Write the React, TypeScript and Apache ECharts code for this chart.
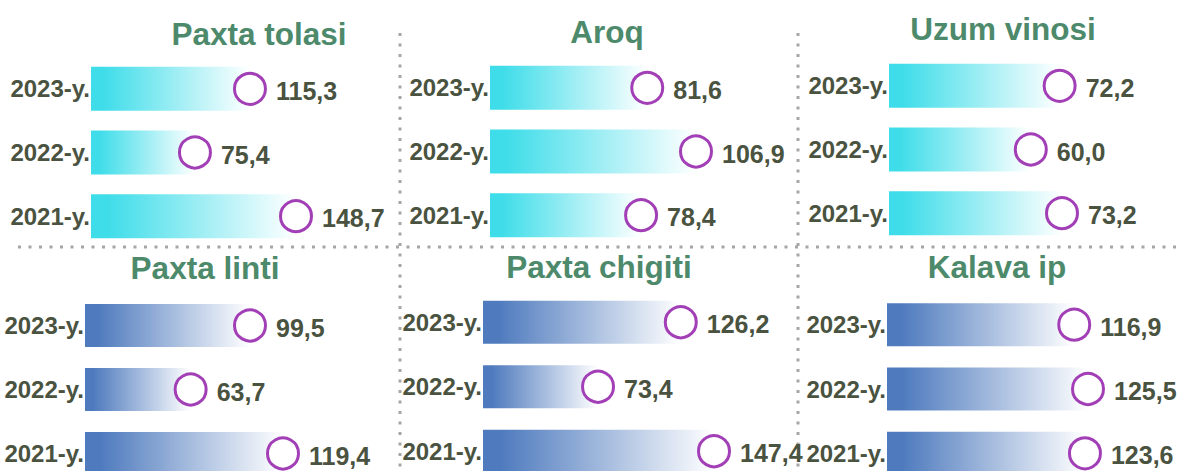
import React, { useEffect, useRef } from "react";
import * as echarts from "echarts";

// ---- data ----
const categories = ["2023-y.", "2022-y.", "2021-y."];
const titles = ["Paxta tolasi", "Aroq", "Uzum vinosi", "Paxta linti", "Paxta chigiti", "Kalava ip"];
const paxtaTolasi = [115.3, 75.4, 148.7];
const aroq = [81.6, 106.9, 78.4];
const uzumVinosi = [72.2, 60.0, 73.2];
const paxtaLinti = [99.5, 63.7, 119.4];
const paxtaChigiti = [126.2, 73.4, 147.4];
const kalavaIp = [116.9, 125.5, 123.6];
const panelValues = [paxtaTolasi, aroq, uzumVinosi, paxtaLinti, paxtaChigiti, kalavaIp];

// ---- layout / style ----
const CYAN = "#3FDDE9";
const BLUE = "#4F7BBE";
const panels = [
  { left: 91, width: 205, top: 57, height: 191, tx: 259, ty: 34, color: CYAN, bw: 44 },
  { left: 490, width: 206, top: 56, height: 191, tx: 607, ty: 31.5, color: CYAN, bw: 44 },
  { left: 889, width: 173, top: 54, height: 191, tx: 1003, ty: 28.5, color: CYAN, bw: 44 },
  { left: 85, width: 198, top: 293.5, height: 192, tx: 205, ty: 268, color: BLUE, bw: 43 },
  { left: 483, width: 231, top: 290, height: 193.5, tx: 599, ty: 267, color: BLUE, bw: 43 },
  { left: 887, width: 201, top: 292.5, height: 193, tx: 997, ty: 266.5, color: BLUE, bw: 43 },
];

const TEXT = "#4A5240";
const TITLE = "#4D8A6B";
const RING = "#A23FB7";
const FONT = "'Liberation Sans', Arial, sans-serif";

const fmt = (v: number) => v.toFixed(1).replace(".", ",");

function buildOption() {
  const grid: any[] = [];
  const xAxis: any[] = [];
  const yAxis: any[] = [];
  const series: any[] = [];
  const graphic: any[] = [];

  panels.forEach((p, i) => {
    const vals = panelValues[i];
    grid.push({
      left: p.left,
      width: p.width,
      top: p.top,
      height: p.height,
      containLabel: false,
      outerBoundsMode: "none",
    });
    xAxis.push({ type: "value", gridIndex: i, min: 0, max: "dataMax", show: false });
    yAxis.push({
      type: "category",
      gridIndex: i,
      inverse: true,
      data: categories,
      axisLine: { show: false },
      axisTick: { show: false },
      splitLine: { show: false },
      axisLabel: {
        margin: 1,
        color: TEXT,
        fontSize: 24,
        fontWeight: "bold",
        fontFamily: FONT,
      },
    });
    series.push({
      type: "bar",
      xAxisIndex: i,
      yAxisIndex: i,
      barWidth: p.bw,
      data: vals,
      itemStyle: {
        color: {
          type: "linear",
          x: 0,
          y: 0,
          x2: 1,
          y2: 0,
          colorStops: [
            { offset: 0, color: p.color },
            { offset: 0.08, color: p.color },
            { offset: 1, color: "#FFFFFF" },
          ],
        },
      },
      clip: false,
    });
    series.push({
      type: "scatter",
      xAxisIndex: i,
      yAxisIndex: i,
      symbol: "circle",
      symbolSize: 31,
      data: vals.map((v, k) => [v, categories[k]]),
      itemStyle: { color: "#FFFFFF", borderColor: RING, borderWidth: 3, opacity: 1 },
      label: {
        show: true,
        position: "right",
        distance: 9,
        offset: [0, 2],
        formatter: (d: any) => fmt(d.value[0]),
        color: TEXT,
        fontSize: 25,
        fontWeight: "bold",
        fontFamily: FONT,
      },
      z: 3,
    });
    graphic.push({
      type: "text",
      x: p.tx,
      y: p.ty,
      style: {
        text: titles[i],
        fill: TITLE,
        font: `bold 31.5px ${FONT}`,
        textAlign: "center",
        textVerticalAlign: "middle",
      },
    });
  });

  const dotted = { stroke: "#A6A6A6", lineWidth: 3, lineDash: [3, 7.5] };
  graphic.push({ type: "line", shape: { x1: 400, y1: 33, x2: 400, y2: 471 }, style: dotted });
  graphic.push({ type: "line", shape: { x1: 798, y1: 33, x2: 798, y2: 471 }, style: dotted });
  graphic.push({ type: "line", shape: { x1: 18, y1: 247, x2: 1181, y2: 247 }, style: dotted });

  return { animation: false, backgroundColor: "#FFFFFF", grid, xAxis, yAxis, series, graphic };
}

export default function App() {
  const ref = useRef<HTMLDivElement>(null);
  useEffect(() => {
    const chart = echarts.init(ref.current!, null, { renderer: "svg" });
    chart.setOption(buildOption());
    return () => chart.dispose();
  }, []);
  return (
    <div
      ref={ref}
      style={{ position: "absolute", left: 0, top: 0, width: 1181, height: 471, background: "#fff" }}
    />
  );
}
